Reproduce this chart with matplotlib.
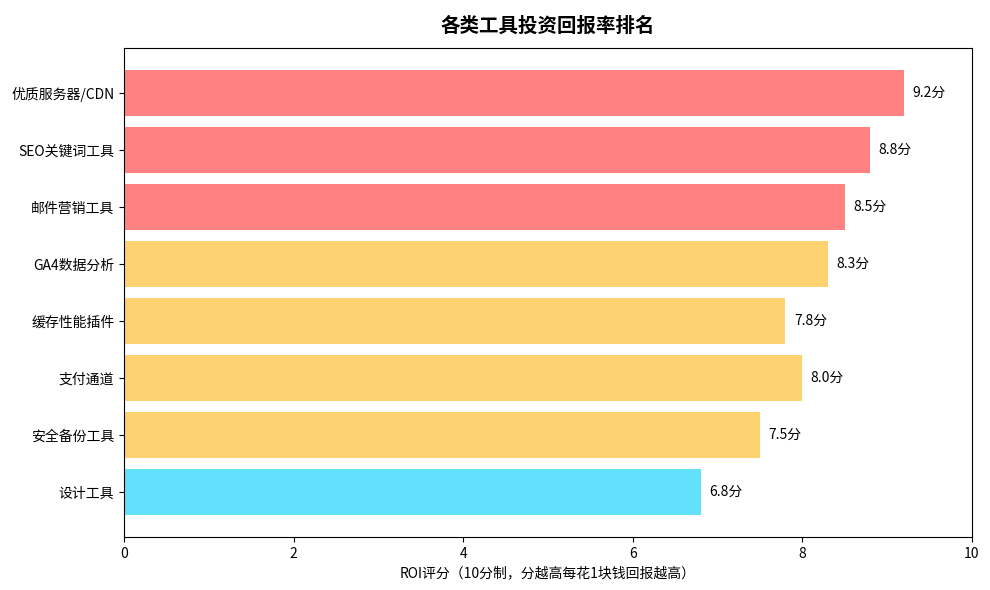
import matplotlib
matplotlib.use('Agg')
import matplotlib.pyplot as plt

plt.rcParams['font.family'] = ['Noto Sans CJK SC', 'DejaVu Sans']
plt.rcParams['axes.unicode_minus'] = False

tools = ['优质服务器/CDN', 'SEO关键词工具', '邮件营销工具', 'GA4数据分析',
         '缓存性能插件', '支付通道', '安全备份工具', '设计工具']
roi = [9.2, 8.8, 8.5, 8.3, 7.8, 8.0, 7.5, 6.8]
colors = ['#FF6B6B'] * 3 + ['#FECA57'] * 4 + ['#48DBFB']

fig, ax = plt.subplots(figsize=(9.9, 5.9), dpi=100)
bars = ax.barh(tools, roi, color=colors, alpha=0.85)
ax.invert_yaxis()

for b, v in zip(bars, roi):
    ax.text(b.get_width() + 0.1, b.get_y() + b.get_height() / 2, f'{v}分',
            va='center', fontsize=10)

ax.set_xlim(0, 10)
ax.set_xlabel('ROI评分（10分制，分越高每花1块钱回报越高）')
ax.set_title('各类工具投资回报率排名', fontsize=14, fontweight='bold', pad=12)

plt.subplots_adjust(left=0.1253, right=0.9818, top=0.9186, bottom=0.0898)
plt.savefig('out.png')
